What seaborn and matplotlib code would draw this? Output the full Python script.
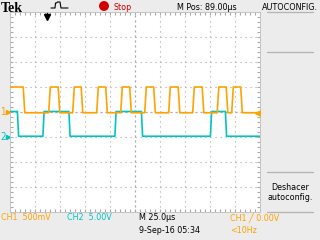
import numpy as np
import pandas as pd
import matplotlib
matplotlib.use("Agg")
import matplotlib.pyplot as plt
import seaborn as sns
from matplotlib.lines import Line2D
from matplotlib.patches import Ellipse
from matplotlib.ticker import MultipleLocator

# ---- data (time in µs from left edge, level in divisions) ----
ch1_edges = [14, 39.5, 49, 63.5, 72, 87.5, 96.5, 111.5, 120.5, 135.5, 144.5,
             159.5, 169, 183.5, 193, 208, 217, 222.5, 231.5]
ch1_levels = [1.0, -0.03]          # high, low
ch1_start_high = True
ch2_edges = [8, 33.5, 59.5, 105.5, 132, 201, 216]
ch2_levels = [0.02, -0.97]
ch2_start_high = True
time_span = 250.0

header_texts = ["Tek", "Stop", "M Pos: 89.00µs", "AUTOCONFIG."]
footer_texts = ["CH1  500mV", "CH2  5.00V", "M 25.0µs", "9-Sep-16 05:34",
                "CH1 ╱ 0.00V", "<10Hz"]
menu_texts = ["Deshacer", "autoconfig."]

ORANGE = "#FFA200"
CYAN = "#00C4C4"
BG = "#ececec"
GRID = "#a8a8a8"
FS = 6.4


def trace(edges, levels, start_high, rise):
    state = 0 if start_high else 1
    t = [0.0]
    v = [levels[state]]
    for e in edges:
        t.append(e - rise / 2)
        v.append(levels[state])
        state = 1 - state
        t.append(e + rise / 2)
        v.append(levels[state])
    t.append(time_span)
    v.append(levels[state])
    return pd.DataFrame({"t": t, "v": v})


sns.set_theme(style="white")
plt.rcParams["lines.scale_dashes"] = False
plt.rcParams["font.family"] = ["DejaVu Sans"]
plt.rcParams["font.stretch"] = "condensed"

W, H = 320, 240
fig = plt.figure(figsize=(W / 100, H / 100), dpi=100, facecolor=BG)


def fx(px):
    return px / W


def fy(py):
    return 1 - py / H


def txt(x, y, s, color="black", **kw):
    kw.setdefault("fontsize", FS)
    kw.setdefault("va", "baseline")
    fig.text(fx(x), fy(y), s, color=color, fontstretch="condensed", **kw)


ax = fig.add_axes([fx(10), fy(212), 250 / W, 200 / H])
ax.set_facecolor("white")
ax.set_xlim(0, time_span)
ax.set_ylim(-4, 4)

# grid dots
for gx in np.arange(25, 250, 25):
    if gx == 125:
        continue
    ax.axvline(gx, color=GRID, lw=0.8, dashes=(0.8, 2.8), zorder=1)
for gy in [-3, -2, -1, 1, 2, 3]:
    ax.axhline(gy, color=GRID, lw=0.8, dashes=(0.8, 2.8), zorder=1)
ax.axvline(125, color=GRID, lw=0.9, dashes=(1.5, 2.1), zorder=1)
ax.axhline(0, color=GRID, lw=0.9, dashes=(1.5, 2.1), zorder=1)

ax.xaxis.set_major_locator(MultipleLocator(25))
ax.xaxis.set_minor_locator(MultipleLocator(5))
ax.yaxis.set_major_locator(MultipleLocator(1))
ax.yaxis.set_minor_locator(MultipleLocator(0.2))
ax.tick_params(which="both", direction="in", length=2.2, width=0.8, color=GRID,
               top=True, bottom=True, left=True, right=True,
               labelleft=False, labelbottom=False)
for s in ax.spines.values():
    s.set_color("#c4c4c4")
    s.set_linewidth(0.7)

d1 = trace(ch1_edges, ch1_levels, ch1_start_high, 1.6)
d2 = trace(ch2_edges, ch2_levels, ch2_start_high, 1.2)
sns.lineplot(data=d2, x="t", y="v", sort=False, estimator=None, color=CYAN,
             lw=1.2, ax=ax, zorder=3)
sns.lineplot(data=d1, x="t", y="v", sort=False, estimator=None, color=ORANGE,
             lw=1.2, ax=ax, zorder=4)
ax.set_xlabel("")
ax.set_ylabel("")

# trigger position arrow (top)
ax.plot([37, 37], [3.97, 3.8], color="black", lw=1.0, zorder=5)
ax.plot([37], [3.78], marker="v", ms=4, color="black", zorder=5)
# trigger level marker (right)
ax.plot([246, 250], [-0.04, -0.04], color=ORANGE, lw=1.0, zorder=5)
ax.plot([248], [-0.04], marker="<", ms=4, color=ORANGE, zorder=5)
# channel ground markers (left)
ax.plot([-4.5, -1], [0, 0], color=ORANGE, lw=0.9, clip_on=False)
ax.plot([-1.8], [0], marker=">", ms=3.0, color=ORANGE, clip_on=False)
ax.plot([-4.5, -1], [-1, -1], color=CYAN, lw=0.9, clip_on=False)
ax.plot([-1.8], [-1], marker=">", ms=3.0, color=CYAN, clip_on=False)
txt(0.5, 115.5, "1", ORANGE, fontsize=7)
txt(0.5, 140.5, "2", CYAN, fontsize=7)

# header
fig.text(fx(1), fy(11.5), header_texts[0], family="Liberation Serif",
         weight="bold", fontsize=10, color="black", va="baseline")
icon_x = [51, 55, 55.5, 56.5, 57.5, 60, 61, 62, 63, 68]
icon_y = [8, 8, 3, 3, 2, 2, 8, 8, 8, 8]
fig.add_artist(Line2D([fx(v) for v in icon_x], [fy(v) for v in icon_y],
                      color="black", lw=0.8))
fig.add_artist(Ellipse((fx(104), fy(6)), 8.5 / W, 8.5 / H, color="#d40000",
                       transform=fig.transFigure))
txt(113, 10.5, header_texts[1], "#d40000")
txt(177, 10.5, header_texts[2])
txt(262, 10.5, header_texts[3])

# menu panel
for ly in [12, 52, 172, 212]:
    fig.add_artist(Line2D([fx(267), fx(313)], [fy(ly), fy(ly)],
                          color="#b4b4b4", lw=0.9))
txt(290, 189.5, menu_texts[0], ha="center")
txt(290, 200, menu_texts[1], ha="center")

# footer
txt(1, 220.5, footer_texts[0], ORANGE)
txt(67, 220.5, footer_texts[1], CYAN)
txt(139, 220.5, footer_texts[2])
txt(139, 233, footer_texts[3])
txt(230, 220.5, footer_texts[4], ORANGE)
txt(230, 233, footer_texts[5], ORANGE)

fig.savefig("out.png", dpi=100, facecolor=BG)
